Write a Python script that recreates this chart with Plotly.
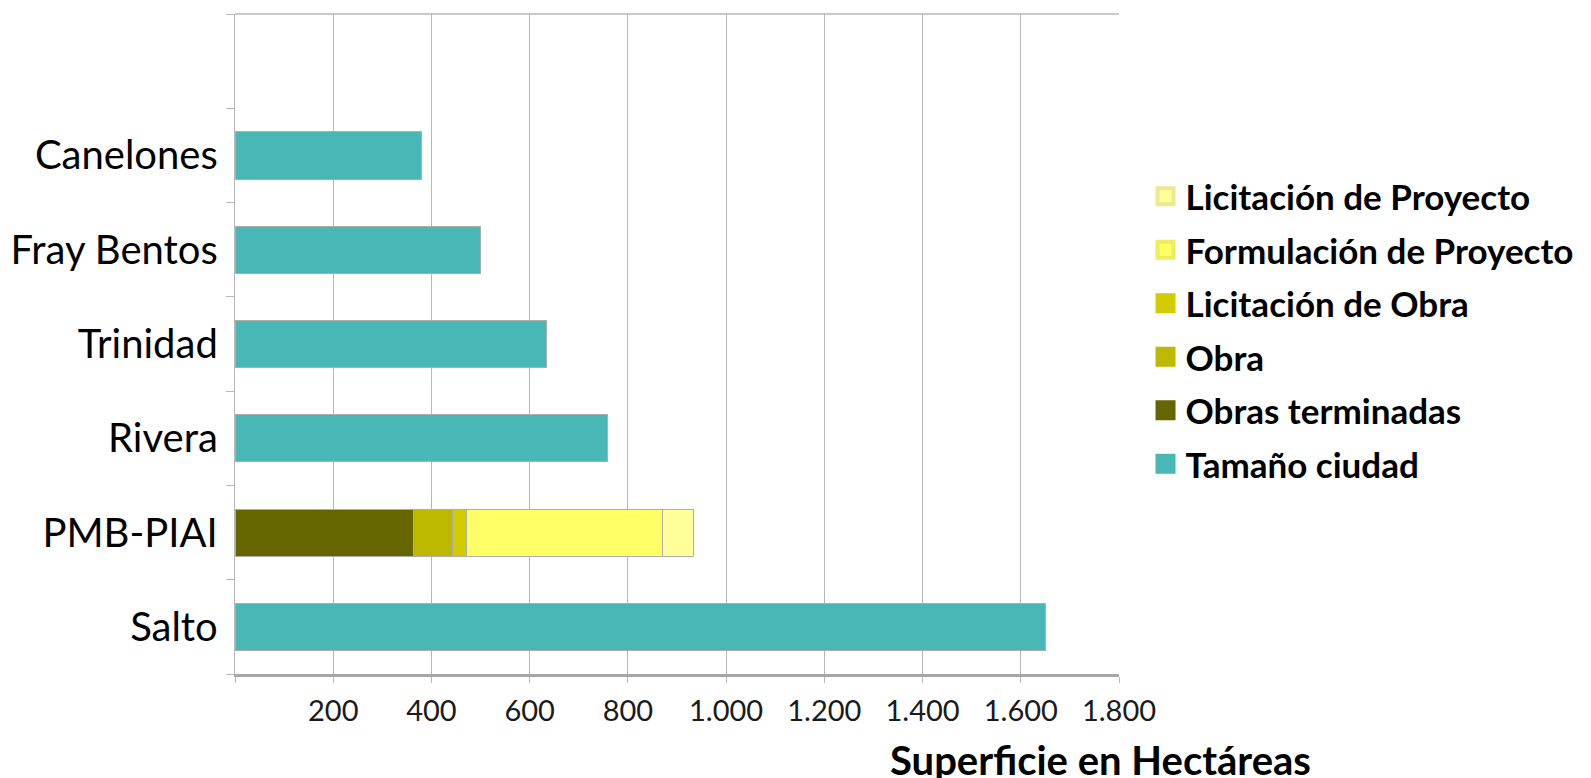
import plotly.graph_objects as go

# ---- data ----
categories = ["Salto", "PMB-PIAI", "Rivera", "Trinidad", "Fray Bentos", "Canelones"]
axis_categories = categories + [" "]          # empty slot at the top

tamano_ciudad        = [1650, None, 758, 635, 500, 380]
obras_terminadas     = [None, 364, None, None, None, None]
obra                 = [None, 78, None, None, None, None]
licitacion_obra      = [None, 29, None, None, None, None]
formulacion_proyecto = [None, 400, None, None, None, None]
licitacion_proyecto  = [None, 63, None, None, None, None]

series_names = ["Tamaño ciudad", "Obras terminadas", "Obra", "Licitación de Obra",
                "Formulación de Proyecto", "Licitación de Proyecto"]
series_values = [tamano_ciudad, obras_terminadas, obra, licitacion_obra,
                 formulacion_proyecto, licitacion_proyecto]
series_colors = ["#48B7B5", "#666600", "#BDB800", "#D2CB00", "#FFFF66", "#FFFF99"]
legend_borders = ["#48B7B5", "#666600", "#BDB800", "#D2CB00", "#EDED5E", "#EAEA90"]

x_tickvals = [0, 200, 400, 600, 800, 1000, 1200, 1400, 1600, 1800]
x_ticktext = ["", "200", "400", "600", "800", "1.000", "1.200", "1.400", "1.600", "1.800"]

FONT = "Lato"

fig = go.Figure()
for name, vals, col in zip(series_names, series_values, series_colors):
    fig.add_trace(go.Bar(
        x=vals, y=categories, orientation="h", name=name,
        marker=dict(color=col, line=dict(color="#ADADAD", width=1)),
        width=0.5, showlegend=False, legendgroup=name,
    ))
# legend entries (bigger square swatches), top-to-bottom order reversed
n = len(series_names)
for i, (name, col, bcol) in enumerate(zip(series_names, series_colors, legend_borders)):
    fig.add_trace(go.Scatter(
        x=[None], y=[None], mode="markers", name=name, legendgroup=name,
        legendrank=n - i,
        marker=dict(symbol="square", size=16, color=col, line=dict(color=bcol, width=4)),
        showlegend=True,
    ))

fig.update_layout(
    width=1591, height=778,
    barmode="stack",
    plot_bgcolor="white", paper_bgcolor="white",
    margin=dict(l=235, r=472, t=14, b=104, autoexpand=False),
    font=dict(family=FONT, color="#000000"),
    legend=dict(
        x=1.030, xanchor="left", y=0.768, yanchor="top",
        traceorder="grouped", tracegroupgap=5,
        itemsizing="trace",
        font=dict(family=FONT, size=35, weight="bold", color="#000000"),
        bgcolor="rgba(0,0,0,0)",
    ),
    xaxis=dict(
        range=[0, 1800], tickvals=x_tickvals, ticktext=x_ticktext,
        showgrid=True, gridcolor="#B8B8B8", gridwidth=1.4,
        showline=True, linecolor="#A6A6A6", linewidth=2.5,
        ticks="outside", ticklen=6, tickcolor="#B8B8B8", tickwidth=1.4,
        tickfont=dict(family=FONT, size=29, color="#1a1a1a"),
        ticklabelstandoff=3,
        zeroline=False, fixedrange=True,
    ),
    yaxis=dict(
        type="category", categoryorder="array", categoryarray=axis_categories,
        range=[-0.5, 6.5],
        tickson="boundaries", ticks="outside", ticklen=8, tickcolor="#B8B8B8", tickwidth=1.4,
        showline=True, linecolor="#B8B8B8", linewidth=1.4,
        showgrid=False, zeroline=False,
        tickfont=dict(family=FONT, size=40, color="#000000"),
        ticklabelstandoff=8, fixedrange=True,
    ),
    shapes=[dict(type="line", xref="x domain", yref="y domain", x0=0, x1=1, y0=1, y1=1,
                 line=dict(color="#B8B8B8", width=1.4))],
    annotations=[dict(
        text="Superficie en Hectáreas", xref="paper", yref="paper",
        x=0.739, xanchor="left", y=-0.131, yanchor="middle", showarrow=False,
        font=dict(family=FONT, size=40, weight="bold", color="#000000"),
    )],
)

fig.write_html("out.html", config={"displayModeBar": False},
               post_script="document.body.style.margin='0';")
